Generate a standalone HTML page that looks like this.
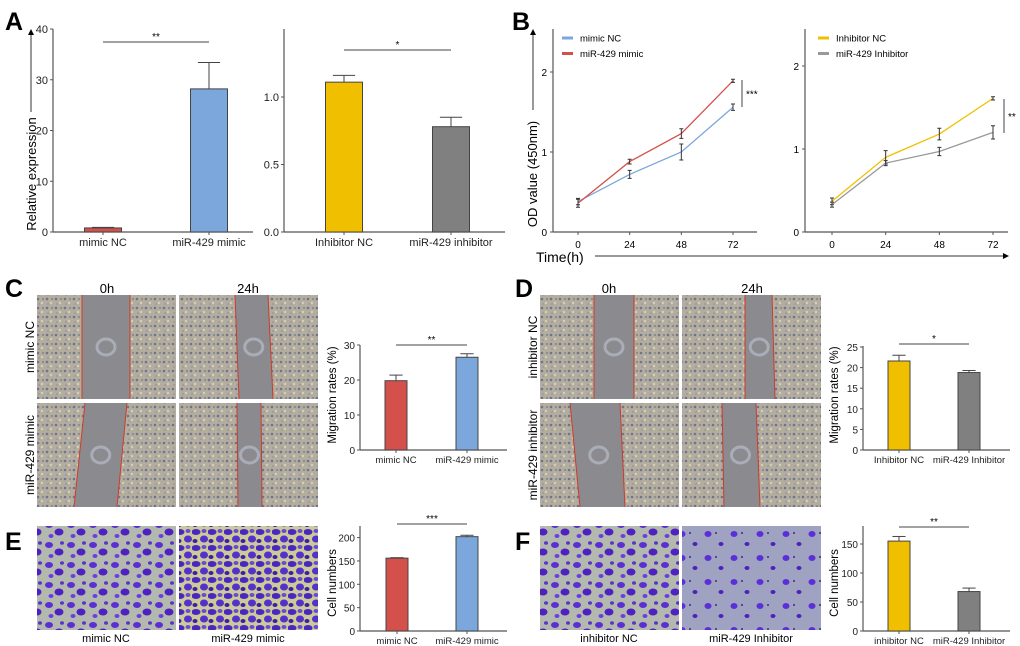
<!DOCTYPE html>
<html><head><meta charset="utf-8"><style>
body{margin:0;background:#fff}
svg{display:block;font-family:"Liberation Sans",Arial,sans-serif}
</style></head><body>
<svg id="fig" width="1020" height="646" viewBox="0 0 1020 646" xmlns="http://www.w3.org/2000/svg">
<defs>
<pattern id="cells" width="9" height="9" patternUnits="userSpaceOnUse">
<rect width="9" height="9" fill="#b3ad9f"/><circle cx="2" cy="2" r="1.3" fill="#6d7390"/><circle cx="6" cy="6" r="1.2" fill="#d8cfb4"/><circle cx="7" cy="2" r="1" fill="#7f8196"/><circle cx="3" cy="7" r="1" fill="#9b9a9a"/>
</pattern>
<pattern id="tw1" width="22" height="20" patternUnits="userSpaceOnUse">
<rect width="22" height="20" fill="#b4b9b0"/><ellipse cx="5" cy="5" rx="4" ry="3" fill="#5b2fd2"/><ellipse cx="15" cy="12" rx="4.5" ry="3.5" fill="#4e22c0"/><ellipse cx="7" cy="16" rx="2.5" ry="2" fill="#6a3fe0"/><ellipse cx="18" cy="3" rx="2" ry="1.8" fill="#5a33c8"/>
</pattern>
<pattern id="tw2" width="16" height="16" patternUnits="userSpaceOnUse">
<rect width="16" height="16" fill="#c9cc98"/><ellipse cx="4" cy="4" rx="4.5" ry="3" fill="#4b27bf"/><ellipse cx="12" cy="11" rx="4" ry="3.5" fill="#5530cc"/><ellipse cx="3" cy="13" rx="2.5" ry="2" fill="#3d1fa6"/><ellipse cx="12" cy="3" rx="2.5" ry="2" fill="#6d48d8"/>
</pattern>
<pattern id="tw3" width="26" height="24" patternUnits="userSpaceOnUse">
<rect width="26" height="24" fill="#9fa2c0"/><ellipse cx="6" cy="6" rx="3.5" ry="3" fill="#5a2fd8"/><ellipse cx="19" cy="16" rx="2.5" ry="2" fill="#4a24b8"/><circle cx="14" cy="5" r="1" fill="#3a2a80"/>
</pattern>
<marker id="arr" markerWidth="6" markerHeight="6" refX="3" refY="3" orient="auto"><path d="M0,0 L6,3 L0,6 z" fill="#000"/></marker>
</defs>
<g id="root"></g>
</svg>
<script>
// ---- data ----
const aLeftCats=["mimic NC","miR-429 mimic"];
const aLeftVals=[0.8,28.2];
const aLeftErr=[0.1,5.2];
const aLeftTicks=[0,10,20,30,40];
const aRightCats=["Inhibitor NC","miR-429 inhibitor"];
const aRightVals=[1.11,0.78];
const aRightErr=[0.05,0.07];
const aRightTicks=[0.0,0.5,1.0];
const bTimes=[0,24,48,72];
const bMimicNC=[0.38,0.72,1.0,1.56];
const bMimicNCErr=[0.04,0.05,0.1,0.04];
const bMimic=[0.36,0.88,1.23,1.89];
const bMimicErr=[0.05,0.03,0.06,0.02];
const bInhNC=[0.37,0.9,1.18,1.61];
const bInhNCErr=[0.04,0.08,0.07,0.02];
const bInh=[0.33,0.83,0.97,1.2];
const bInhErr=[0.03,0.03,0.05,0.08];
const bTicks=[0,1,2];
const cCats=["mimic NC","miR-429 mimic"];
const cVals=[19.8,26.5];
const cErr=[1.6,1.0];
const cTicks=[0,10,20,30];
const dCats=["Inhibitor NC","miR-429 Inhibitor"];
const dVals=[21.6,18.8];
const dErr=[1.4,0.5];
const dTicks=[0,5,10,15,20,25];
const eCats=["mimic NC","miR-429 mimic"];
const eVals=[156,202];
const eErr=[1,3];
const eTicks=[0,50,100,150,200];
const fCats=["inhibitor NC","miR-429 Inhibitor"];
const fVals=[155,68];
const fErr=[8,6];
const fTicks=[0,50,100,150];

const NS="http://www.w3.org/2000/svg";
const root=document.getElementById('root');
function mk(tag,attrs,parent,text){const e=document.createElementNS(NS,tag);for(const k in attrs)e.setAttribute(k,attrs[k]);if(text!==undefined)e.textContent=text;(parent||root).appendChild(e);return e;}

function barChart(o){
  const g=mk('g',{});
  
  
  const y=v=>o.y0-(v-0)*o.ppu;
  const ax=mk('line',{x1:o.x0,y1:o.yTop,x2:o.x0,y2:o.y0,stroke:'#555','stroke-width':1.2},g);
  
  
  const bx=mk('line',{x1:o.x0,y1:o.y0,x2:o.xEnd,y2:o.y0,stroke:'#555','stroke-width':1.2},g);
  
  
  o.ticks.forEach(t=>{
    mk('line',{x1:o.x0-3,y1:y(t),x2:o.x0,y2:y(t),stroke:'#555'},g);
    const tl=mk('text',{x:o.x0-5,y:y(t)+4,'font-size':o.fs||10,'text-anchor':'end',fill:'#222'},g,o.fmt?o.fmt(t):String(t));
    
    
  });
  o.cats.forEach((c,i)=>{
    const cx=o.centers[i],v=o.vals[i],e=o.err[i];
    mk('line',{x1:cx,y1:y(v),x2:cx,y2:y(v+e),stroke:'#444','stroke-width':1},g);
    mk('line',{x1:cx-o.bw*0.3,y1:y(v+e),x2:cx+o.bw*0.3,y2:y(v+e),stroke:'#444','stroke-width':1},g);
    const r=mk('rect',{x:cx-o.bw/2,y:y(v),width:o.bw,height:o.y0-y(v),fill:o.colors[i],stroke:'#444','stroke-width':1},g);
    
    
    mk('line',{x1:cx,y1:o.y0,x2:cx,y2:o.y0+3,stroke:'#555'},g);
    const xl=mk('text',{x:cx,y:o.y0+(o.xlo||14),'font-size':o.xfs||11,'text-anchor':'middle',fill:'#222'},g,c);
    
    
  });
  mk('line',{x1:o.centers[0],y1:o.sigY,x2:o.centers[1],y2:o.sigY,stroke:'#444'},g);
  const s=mk('text',{x:(o.centers[0]+o.centers[1])/2,y:o.sigY-2,'font-size':10,'text-anchor':'middle'},g,o.sig);
  
  
  if(o.title){
    const t=mk('text',{x:o.titleX,y:o.titleY,'font-size':o.tfs||12,'text-anchor':'middle',transform:`rotate(-90 ${o.titleX} ${o.titleY})`},g,o.title);
    
    
  }
}

function lineChart(o){
  const g=mk('g',{});
  
  
  const xs=t=>o.xA+(t-0)/72*(o.xB-o.xA);
  const y=v=>o.y0-v*o.ppu;
  const a1=mk('line',{x1:o.x0,y1:29,x2:o.x0,y2:o.y0,stroke:'#555','stroke-width':1.2},g);
  
  
  const a2=mk('line',{x1:o.x0,y1:o.y0,x2:o.xEnd,y2:o.y0,stroke:'#555','stroke-width':1.2},g);
  
  
  o.ticks.forEach(t=>{
    mk('line',{x1:o.x0-3,y1:y(t),x2:o.x0,y2:y(t),stroke:'#555'},g);
    const l=mk('text',{x:o.x0-6,y:y(t)+4,'font-size':10,'text-anchor':'end'},g,String(t));
    
    
  });
  bTimes.forEach(t=>{
    mk('line',{x1:xs(t),y1:o.y0,x2:xs(t),y2:o.y0+3,stroke:'#555'},g);
    const l=mk('text',{x:xs(t),y:o.y0+16,'font-size':10,'text-anchor':'middle'},g,String(t));
    
    
  });
  o.series.forEach((s,si)=>{
    const p=mk('polyline',{points:s.vals.map((v,i)=>xs(bTimes[i])+','+y(v)).join(' '),fill:'none',stroke:s.color,'stroke-width':1.3},g);
    
    
    s.vals.forEach((v,i)=>{
      const x=xs(bTimes[i]),e=s.err[i];
      mk('path',{d:`M${x},${y(v-e)}V${y(v+e)}M${x-2},${y(v-e)}h4M${x-2},${y(v+e)}h4`,stroke:'#333','stroke-width':1,fill:'none'},g);
    });
    const ly=38+si*15.5;
    const ll=mk('line',{x1:o.legX,y1:ly,x2:o.legX+11,y2:ly,stroke:s.color,'stroke-width':3},g);
    
    
    const lt=mk('text',{x:o.legX+18,y:ly+3.5,'font-size':9.5},g,s.label);
    
    
  });
  mk('line',{x1:o.sigX,y1:o.sig1,x2:o.sigX,y2:o.sig2,stroke:'#444'},g);
  const st=mk('text',{x:o.sigX+4,y:(o.sig1+o.sig2)/2+4,'font-size':10},g,o.sig);
  
  
}

// ----- panel letters -----
[["A",5,30],["B",512,30],["C",5,297],["D",515,297],["E",5,550],["F",515,550]].forEach(p=>{
  const t=mk('text',{x:p[1],y:p[2],'font-size':25,'font-weight':'bold'},root,p[0]);
  
  
});

// ---- A ----
barChart({name:'chart-a-mimic',x0:53,xEnd:253,y0:232,yTop:29,ppu:5.075,ticks:aLeftTicks,cats:aLeftCats,vals:aLeftVals,err:aLeftErr,centers:[103,209],bw:37,colors:['#d4514b','#7ba7dc'],sigY:42,sig:'**',fs:11,xfs:11});
barChart({name:'chart-a-inhibitor',x0:284,xEnd:505,y0:232,yTop:29,ppu:135,ticks:aRightTicks,fmt:t=>t.toFixed(1),cats:aRightCats,vals:aRightVals,err:aRightErr,centers:[344,451],bw:37,colors:['#f0c000','#808080'],sigY:50,sig:'*',fs:11,xfs:11});
{const t=mk('text',{x:36,y:174,'font-size':13,'text-anchor':'middle',transform:'rotate(-90 36 174)'},root,'Relative expression');


mk('line',{x1:31,y1:112,x2:31,y2:32,stroke:'#333','marker-end':'url(#arr)'});}

// ---- B ----
lineChart({name:'chart-b-mimic',x0:553,xEnd:757,y0:232,ppu:80,ticks:bTicks,xA:578,xB:733,legX:562,sigX:742,sig1:80,sig2:107,sig:'***',
 series:[{key:'mimic-nc',label:'mimic NC',color:'#7ba7dc',vals:bMimicNC,err:bMimicNCErr},{key:'mir-429-mimic',label:'miR-429 mimic',color:'#d4514b',vals:bMimic,err:bMimicErr}]});
lineChart({name:'chart-b-inhibitor',x0:805,xEnd:1008,y0:232,ppu:83,ticks:bTicks,xA:832,xB:993,legX:818,sigX:1004,sig1:99,sig2:133,sig:'**',
 series:[{key:'inhibitor-nc',label:'Inhibitor NC',color:'#f0c000',vals:bInhNC,err:bInhNCErr},{key:'mir-429-inhibitor',label:'miR-429  Inhibitor',color:'#999',vals:bInh,err:bInhErr}]});
{const t=mk('text',{x:537,y:174,'font-size':13,'text-anchor':'middle',transform:'rotate(-90 537 174)'},root,'OD value (450nm)');


mk('line',{x1:533,y1:110,x2:533,y2:32,stroke:'#333','marker-end':'url(#arr)'});
const x=mk('text',{x:536,y:262,'font-size':14},root,'Time(h)');


mk('line',{x1:595,y1:256,x2:1006,y2:256,stroke:'#333','marker-end':'url(#arr)'});}

// ---- wound images ----
function wound(name,x,y,w,h,tl,tr,bl,br){
  const g=mk('g',{});
  
  
  mk('rect',{x:x,y:y,width:w,height:h,fill:'url(#cells)'},g);
  mk('polygon',{points:`${tl},${y} ${tr},${y} ${br},${y+h} ${bl},${y+h}`,fill:'#8b8b8f'},g);
  mk('line',{x1:tl,y1:y,x2:bl,y2:y+h,stroke:'#d03a2a','stroke-width':1},g);
  mk('line',{x1:tr,y1:y,x2:br,y2:y+h,stroke:'#d03a2a','stroke-width':1},g);
  mk('ellipse',{cx:(tl+tr+bl+br)/4,cy:y+h/2,rx:9,ry:8,fill:'none',stroke:'#a9adb8','stroke-width':3},g);
}
wound('scratch-c-nc-0h',37,295,139,104,82,130,82,130);
wound('scratch-c-nc-24h',179,295,139,104,235,268,239,273);
wound('scratch-c-mimic-0h',37,403,139,104,85,127,74,117);
wound('scratch-c-mimic-24h',179,403,139,104,237,261,238,262);
wound('scratch-d-nc-0h',540,295,139,104,594,634,594,634);
wound('scratch-d-nc-24h',682,295,139,104,745,772,745,775);
wound('scratch-d-inh-0h',540,403,139,104,570,620,580,625);
wound('scratch-d-inh-24h',682,403,139,104,722,756,724,760);
function lbl(name,x,y,s,txt,rot){const a={x:x,y:y,'font-size':s,'text-anchor':'middle'};if(rot)a.transform=`rotate(-90 ${x} ${y})`;const t=mk('text',a,root,txt);}
lbl('time-label-0h',107,293,13,'0h');lbl('time-label-24h',248,293,13,'24h');
lbl('time-label-0h',609,293,13,'0h');lbl('time-label-24h',752,293,13,'24h');
lbl('row-label',34,347,12,'mimic NC',1);lbl('row-label',34,455,12,'miR-429 mimic',1);
lbl('row-label',537,347,12,'inhibitor NC',1);lbl('row-label',537,455,12,'miR-429 inhibitor',1);

// ---- transwell images ----
function tw(name,x,fill){const r=mk('rect',{x:x,y:526,width:139,height:104,fill:fill});}
tw('transwell-mimic-nc',37,'url(#tw1)');tw('transwell-mir-429-mimic',179,'url(#tw2)');
tw('transwell-inhibitor-nc',540,'url(#tw1)');tw('transwell-mir-429-inhibitor',682,'url(#tw3)');
lbl('image-caption',106,642,11,'mimic NC');lbl('image-caption',248,642,11,'miR-429 mimic');
lbl('image-caption',609,642,11,'inhibitor NC');lbl('image-caption',751,642,11,'miR-429 Inhibitor');

// ---- C D E F ----
barChart({name:'chart-c-migration',x0:360,xEnd:507,y0:450,yTop:345,ppu:3.5,ticks:cTicks,cats:cCats,vals:cVals,err:cErr,centers:[396,467],bw:22,colors:['#d4514b','#7ba7dc'],sigY:345,sig:'**',xfs:9.5,xlo:13,title:'Migration rates (%)',titleX:336,titleY:395,tfs:11.5});
barChart({name:'chart-d-migration',x0:863,xEnd:1010,y0:450,yTop:346,ppu:4.12,ticks:dTicks,cats:dCats,vals:dVals,err:dErr,centers:[899,969],bw:22,colors:['#f0c000','#808080'],sigY:344,sig:'*',xfs:9.5,xlo:13,title:'Migration rates (%)',titleX:838,titleY:395,tfs:11.5});
barChart({name:'chart-e-cells',x0:360,xEnd:507,y0:631,yTop:526,ppu:0.467,ticks:eTicks,cats:eCats,vals:eVals,err:eErr,centers:[397,467],bw:22,colors:['#d4514b','#7ba7dc'],sigY:524,sig:'***',xfs:9.5,xlo:13,title:'Cell numbers',titleX:336,titleY:583,tfs:11.5});
barChart({name:'chart-f-cells',x0:863,xEnd:1010,y0:631,yTop:526,ppu:0.58,ticks:fTicks,cats:fCats,vals:fVals,err:fErr,centers:[899,969],bw:22,colors:['#f0c000','#808080'],sigY:527,sig:'**',xfs:9.5,xlo:13,title:'Cell numbers',titleX:838,titleY:583,tfs:11.5});
</script>
</body></html>
